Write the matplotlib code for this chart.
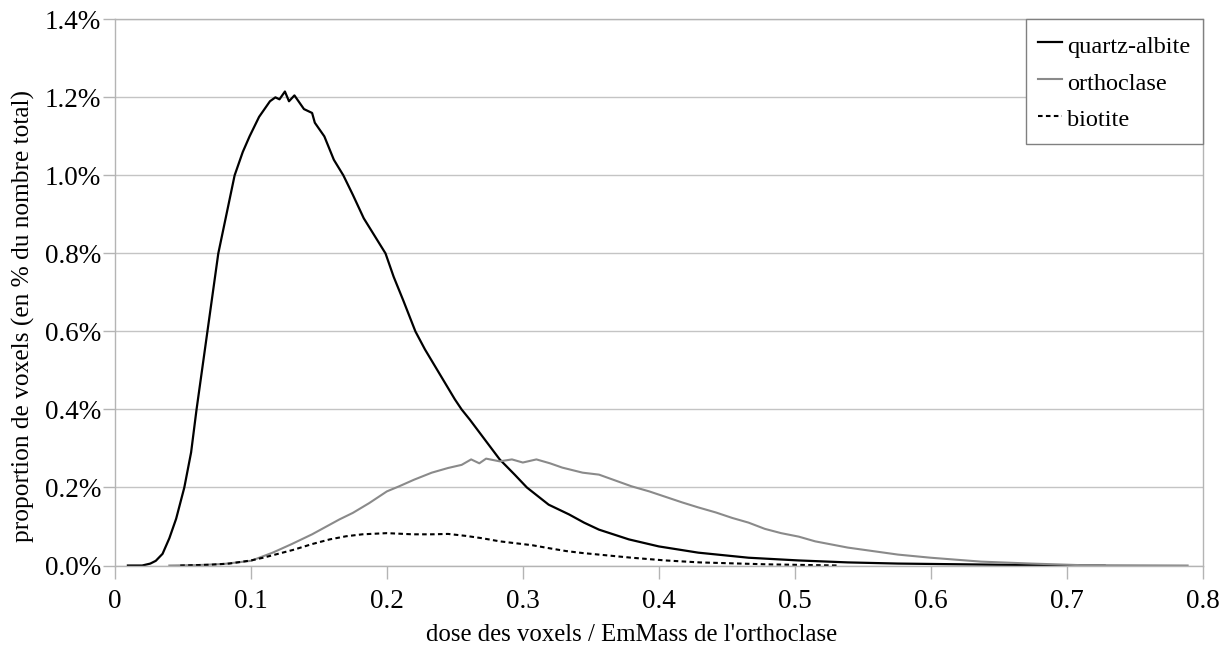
import matplotlib
matplotlib.use("Agg")
import matplotlib.pyplot as plt
from matplotlib.ticker import FuncFormatter, MultipleLocator

# --- data (x: dose / EmMass, y: % of total voxels) ---
qa_x = [0.0095, 0.02, 0.026, 0.03, 0.035, 0.04, 0.045, 0.051, 0.056, 0.06, 0.064, 0.068, 0.072,
        0.076, 0.082, 0.088, 0.094, 0.099, 0.106, 0.114, 0.118, 0.121, 0.125, 0.128, 0.132,
        0.139, 0.145, 0.147, 0.154, 0.161, 0.168, 0.175, 0.183, 0.191, 0.199, 0.205, 0.212,
        0.221, 0.228, 0.239, 0.250, 0.255, 0.261, 0.272, 0.283, 0.294, 0.303, 0.311, 0.319,
        0.334, 0.345, 0.356, 0.378, 0.40, 0.429, 0.466, 0.503, 0.539, 0.576, 0.65, 0.728]
qa_y = [0.0, 0.0, 0.005, 0.012, 0.03, 0.07, 0.12, 0.2, 0.29, 0.4, 0.5, 0.6, 0.7,
        0.8, 0.9, 1.0, 1.06, 1.1, 1.15, 1.19, 1.20, 1.195, 1.215, 1.19, 1.205,
        1.17, 1.16, 1.135, 1.10, 1.04, 1.0, 0.95, 0.89, 0.845, 0.8, 0.74, 0.68,
        0.6, 0.554, 0.49, 0.426, 0.4, 0.374, 0.323, 0.272, 0.233, 0.2, 0.178, 0.156,
        0.131, 0.11, 0.092, 0.067, 0.049, 0.033, 0.02, 0.013, 0.008, 0.005, 0.002, 0.0]

or_x = [0.04, 0.06, 0.08, 0.1, 0.116, 0.13, 0.145, 0.165, 0.175, 0.187, 0.20, 0.209, 0.22,
        0.233, 0.245, 0.255, 0.262, 0.268, 0.273, 0.283, 0.292, 0.30, 0.31, 0.32, 0.329,
        0.344, 0.356, 0.368, 0.38, 0.393, 0.405, 0.417, 0.429, 0.442, 0.454, 0.466, 0.478,
        0.49, 0.503, 0.515, 0.539, 0.576, 0.6, 0.637, 0.674, 0.71, 0.789]
or_y = [0.0, 0.001, 0.004, 0.012, 0.033, 0.055, 0.08, 0.118, 0.135, 0.16, 0.19, 0.203, 0.22,
        0.238, 0.25, 0.258, 0.272, 0.262, 0.274, 0.267, 0.272, 0.264, 0.272, 0.262, 0.251,
        0.238, 0.233, 0.218, 0.203, 0.19, 0.176, 0.162, 0.149, 0.136, 0.122, 0.11, 0.094,
        0.083, 0.074, 0.062, 0.046, 0.028, 0.02, 0.01, 0.005, 0.001, 0.0]

bi_x = [0.048, 0.07, 0.084, 0.1, 0.109, 0.12, 0.131, 0.145, 0.158, 0.17, 0.182, 0.2, 0.219,
        0.233, 0.245, 0.258, 0.27, 0.283, 0.295, 0.307, 0.32, 0.332, 0.344, 0.356, 0.38,
        0.405, 0.43, 0.48, 0.532]
bi_y = [0.0, 0.002, 0.005, 0.013, 0.02, 0.03, 0.04, 0.055, 0.067, 0.075, 0.08, 0.083, 0.08,
        0.08, 0.081, 0.076, 0.07, 0.062, 0.057, 0.052, 0.044, 0.037, 0.032, 0.028, 0.02,
        0.013, 0.008, 0.003, 0.0]

series_labels = ["quartz-albite", "orthoclase", "biotite"]
x_label = "dose des voxels / EmMass de l'orthoclase"
y_label = "proportion de voxels (en % du nombre total)"

plt.rcParams['font.family'] = ['Liberation Serif', 'DejaVu Serif']

fig = plt.figure(figsize=(12.31, 6.51), dpi=100)
ax = fig.add_axes([0.0934, 0.1313, 0.8835, 0.8390])

ax.plot(qa_x, qa_y, color="black", lw=1.6, label=series_labels[0])
ax.plot(or_x, or_y, color="#8a8a8a", lw=1.5, label=series_labels[1])
ax.plot(bi_x, bi_y, color="black", lw=1.5, ls=(0, (2.2, 1.6)), label=series_labels[2])

ax.set_xlim(0, 0.8)
ax.set_ylim(0, 1.4)
ax.xaxis.set_major_locator(MultipleLocator(0.1))
ax.yaxis.set_major_locator(MultipleLocator(0.2))
ax.xaxis.set_major_formatter(FuncFormatter(lambda v, p: "0" if abs(v) < 1e-9 else f"{v:.1f}"))
ax.yaxis.set_major_formatter(FuncFormatter(lambda v, p: f"{v:.1f}%"))

ax.grid(axis="y", color="#c4c4c4", lw=1.0)
ax.set_axisbelow(True)
for s in ax.spines.values():
    s.set_color("#b4b4b4")
    s.set_linewidth(1.0)
ax.tick_params(axis="both", colors="#b4b4b4", length=9, width=1.0, labelsize=19.5,
               labelcolor="black")
ax.tick_params(axis="x", pad=8)
ax.tick_params(axis="y", pad=1)

# axis titles centred on the figure, as in the reference
fig.text(0.513, 0.024, x_label, fontsize=17.8, ha="center", va="center")
fig.text(0.019, 0.5146, y_label, fontsize=18.3, ha="center", va="center", rotation=90)

leg = ax.legend(loc="upper right", fontsize=17.5, frameon=True, fancybox=False,
                edgecolor="#808080", framealpha=1, borderpad=0.5, labelspacing=0.42,
                handlelength=1.0, handleheight=1.3, handletextpad=0.2, borderaxespad=0.0)
leg.get_frame().set_linewidth(1.0)

fig.savefig("out.png", dpi=100)
